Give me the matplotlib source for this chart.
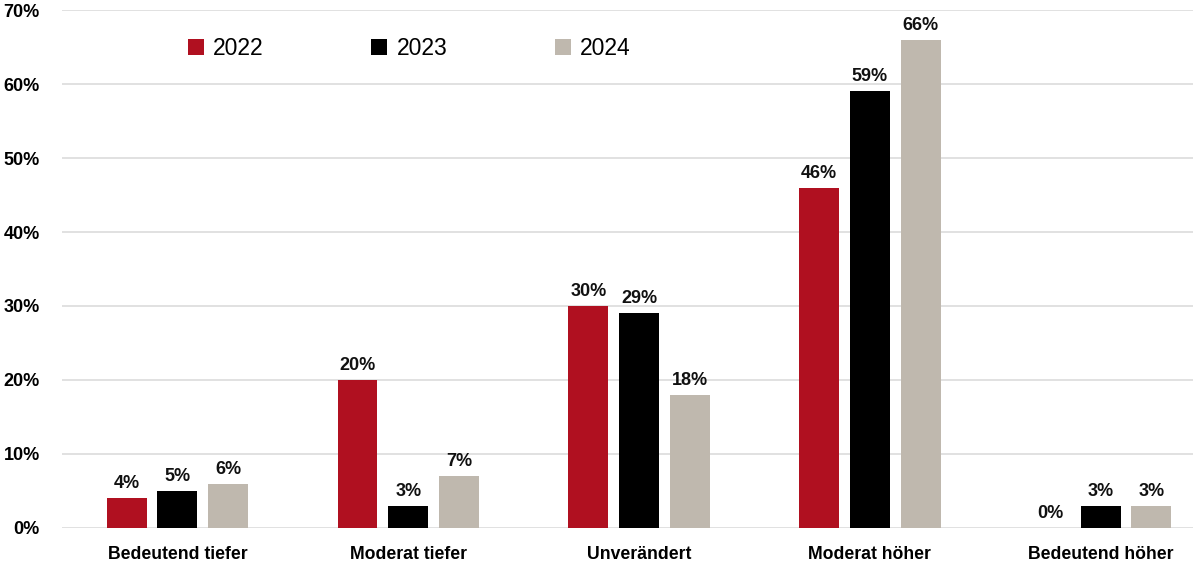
import numpy as np
import matplotlib
matplotlib.use("Agg")
import matplotlib.pyplot as plt
from matplotlib.patches import Patch

plt.rcParams['font.family'] = ['Liberation Sans', 'DejaVu Sans']

categories = ["Bedeutend tiefer", "Moderat tiefer", "Unverändert", "Moderat höher", "Bedeutend höher"]
years = ["2022", "2023", "2024"]
vals_2022 = [4, 20, 30, 46, 0]
vals_2023 = [5, 3, 29, 59, 3]
vals_2024 = [6, 7, 18, 66, 3]
colors = ["#B01020", "#000000", "#BFB8AE"]

fig = plt.figure(figsize=(11.93, 5.63), dpi=100)
ax = fig.add_axes([0.052, 0.0622, 0.948, 0.92])

x = np.arange(len(categories))
width = 0.173
offset = 0.22
series = [vals_2022, vals_2023, vals_2024]
for i, (vals, col) in enumerate(zip(series, colors)):
    pos = x + (i - 1) * offset
    ax.bar(pos, vals, width=width, color=col, zorder=3)
    for p, v in zip(pos, vals):
        ax.text(p, v + 0.8, f"{v}%", ha='center', va='bottom', fontsize=13,
                fontweight='bold', color='#111111')

ax.set_xlim(-0.5, 4.4)
ax.set_ylim(0, 70)
ax.set_yticks(np.arange(0, 71, 10))
ax.set_yticklabels([f"{t}%" for t in range(0, 71, 10)])
ax.yaxis.grid(True, color='#DCDCDC', linewidth=1.2, zorder=0)
ax.set_xticks(x)
ax.set_xticklabels(categories, fontweight='bold', fontsize=12.7)
ax.tick_params(axis='both', length=0)
ax.tick_params(axis='y', labelsize=13, pad=16)
ax.tick_params(axis='x', pad=13)
for lbl in ax.get_yticklabels():
    lbl.set_fontweight('bold')
for s in ax.spines.values():
    s.set_visible(False)

handles = [Patch(facecolor=c) for c in colors]
ax.legend(handles, years, loc='upper left', bbox_to_anchor=(0.093, 0.987), ncol=3,
          frameon=False, fontsize=16.5, handlelength=0.7, handleheight=0.7,
          handletextpad=0.4, columnspacing=4.7)

fig.savefig("out.png", dpi=100)
